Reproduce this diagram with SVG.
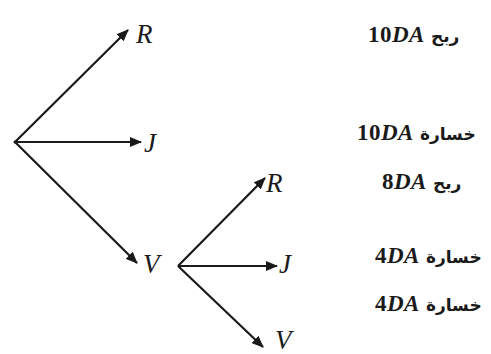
<svg xmlns="http://www.w3.org/2000/svg" width="491" height="354" viewBox="0 0 491 354">
<style>
.c{stroke:#1a1a1a;stroke-width:2.2;fill:none;marker-end:url(#ah)}
.n{font-family:"Liberation Serif","DejaVu Serif",serif;font-style:italic;font-size:27px;fill:#1a1a1a}
.l{font-family:"Liberation Serif","DejaVu Sans",serif;font-size:23px;font-weight:bold;fill:#1a1a1a;letter-spacing:0.5px}
.l .i{font-style:italic}
.l .a{font-family:"DejaVu Sans",sans-serif;font-weight:bold;font-size:17px;letter-spacing:0}
</style>
<defs>
<marker id="ah" viewBox="0 0 12 10" refX="11" refY="5" markerWidth="12" markerHeight="10" markerUnits="userSpaceOnUse" orient="auto">
<path d="M0,0 L12,5 L0,10 Z" fill="#1a1a1a"/>
</marker>
</defs>
<rect width="491" height="354" fill="#fff"/>
<g id="connectors">
<line class="c" x1="15" y1="142" x2="128" y2="30"/>
<line class="c" x1="15" y1="142" x2="141" y2="142"/>
<line class="c" x1="15" y1="142" x2="137" y2="263"/>
<line class="c" x1="178" y1="266" x2="265" y2="178"/>
<line class="c" x1="178" y1="266" x2="277" y2="266"/>
<line class="c" x1="178" y1="266" x2="263" y2="347"/>
</g>
<g id="root"><circle cx="15" cy="142" r="1.5" fill="#1a1a1a"/></g>
<g id="R1"><text class="n" x="136" y="43">R</text></g>
<g id="J1"><text class="n" x="144" y="152">J</text></g>
<g id="V1"><text class="n" x="143" y="273">V</text></g>
<g id="R2"><text class="n" x="266" y="192">R</text></g>
<g id="J2"><text class="n" x="279" y="273">J</text></g>
<g id="V2"><text class="n" x="275" y="349">V</text></g>
<g id="labels">
<text class="l" x="368" y="42">10<tspan class="i">DA</tspan><tspan class="a"> ربح</tspan></text>
<text class="l" x="357" y="140">10<tspan class="i">DA</tspan><tspan class="a"> خسارة</tspan></text>
<text class="l" x="382" y="189">8<tspan class="i">DA</tspan><tspan class="a"> ربح</tspan></text>
<text class="l" x="375" y="263">4<tspan class="i">DA</tspan><tspan class="a"> خسارة</tspan></text>
<text class="l" x="375" y="311">4<tspan class="i">DA</tspan><tspan class="a"> خسارة</tspan></text>
</g>
</svg>
